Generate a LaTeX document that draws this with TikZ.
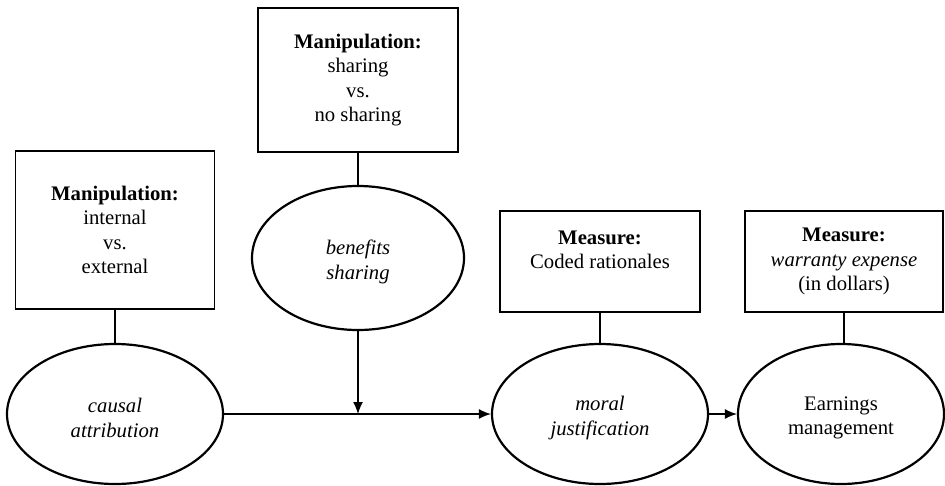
\documentclass[tikz,border=0pt]{standalone}
\usepackage{fontspec}
\setmainfont{Liberation Serif}
\usetikzlibrary{shapes.geometric,arrows.meta}
\begin{document}
\begin{tikzpicture}[x=1pt,y=-1pt,
  every node/.style={font=\fontsize{20.7}{24.5}\selectfont, align=center, inner sep=0pt},
  mbox/.style={draw, line width=1.4pt, rectangle},
  oval/.style={draw, line width=2.2pt, ellipse},
  link/.style={line width=1.4pt},
  arr/.style={line width=1.4pt, -{Latex[length=12pt,width=10pt]}}]
\useasboundingbox (0,0) rectangle (945,485);
% boxes
\node[mbox, minimum width=199pt, minimum height=158pt] (b1) at (115,230)
  {\textbf{Manipulation:}\\internal\\vs.\\external};
\node[mbox, minimum width=200pt, minimum height=144pt] (b2) at (358,80)
  {\textbf{Manipulation:}\\sharing\\vs.\\no sharing};
\node[mbox, minimum width=200pt, minimum height=101pt] (b3) at (600,261.5) {};
\node (t3) at (600,250) {\textbf{Measure:}\\Coded rationales};
\node[mbox, minimum width=198pt, minimum height=101pt] (b4) at (844,261.5)
  {\textbf{Measure:}\\\textit{warranty expense}\\(in dollars)};
% ellipses
\node[oval, minimum width=216pt, minimum height=140pt] (e1) at (115,414) {};
\node (t1) at (115,418) {\textit{causal}\\\textit{attribution}};
\node[oval, minimum width=212pt, minimum height=144pt] (e2) at (358,258) {};
\node (t2) at (358,262) {\textit{benefits}\\\textit{sharing}};
\node[oval, minimum width=216pt, minimum height=140pt] (e3) at (600,414) {};
\node (t3e) at (600,418) {\textit{moral}\\\textit{justification}};
\node[oval, minimum width=206pt, minimum height=140pt] (e4) at (841,414) {};
\node (t4) at (841,418) {Earnings\\management};
% connectors
\draw[link] (b1.south) -- (e1.north);
\draw[link] (b2.south) -- (e2.north);
\draw[link] (b3.south) -- (e3.north);
\draw[link] (b4.south) -- (b4.south |- e4.north);
\coordinate (j) at (e2.south |- e1.east);
\draw[arr] (e1.east) -- (e3.west);
\draw[arr] (e2.south) -- (j);
\draw[arr] (e3.east) -- (e4.west);
\end{tikzpicture}
\end{document}
